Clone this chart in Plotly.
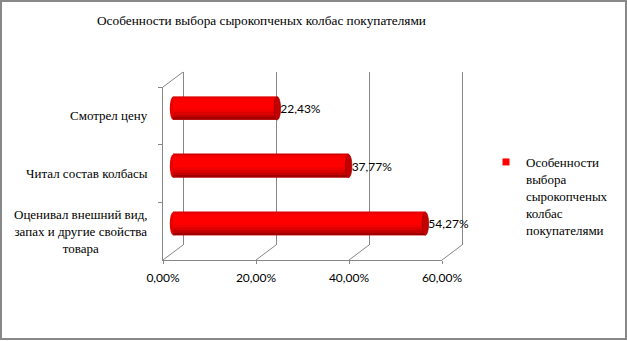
import plotly.graph_objects as go

# ---------------- data ----------------
categories = [
    "Смотрел цену",
    "Читал состав колбасы",
    "Оценивал внешний вид, запах и другие свойства товара",
]
category_labels = [
    "Смотрел цену",
    "Читал состав колбасы",
    "Оценивал внешний вид,<br>запах и другие свойства<br>товара",
]
values = [22.43, 37.77, 54.27]
x_ticks = [0, 20, 40, 60]
x_tick_text = [f"{t:.2f}%".replace(".", ",") for t in x_ticks]
title_text = "Особенности выбора сырокопченых колбас покупателями"
legend_label = "Особенности<br>выбора<br>сырокопченых<br>колбас<br>покупателями"

# ---------------- geometry (pixels) ----------------
W, H = 627, 341


def px(x):
    return x / W


def py(y):
    return 1 - y / H


FX0, FX1 = 163, 442      # front: 0% and 60%
FY0, FY1 = 87, 260       # front: top and bottom
DX, DY = 20, 15          # depth offset of back wall
XMAX = 60
scale = (FX1 - FX0) / XMAX
PAD = 2                  # extra range for bar / wall subplots

GRID = "#878787"
SERIF = "Liberation Serif"
SANS = "Lato"
BAR_W = 0.4

fig = go.Figure()

# invisible trace so the back-wall subplot is created
fig.add_trace(go.Scatter(
    x=values, y=[0.5] * len(values), mode="markers", marker=dict(opacity=0),
    showlegend=False, xaxis="x", yaxis="y", hoverinfo="skip",
))

# main bar (labels)
fig.add_trace(go.Bar(
    x=values, y=categories, orientation="h", width=BAR_W, offset=-BAR_W / 2,
    marker=dict(color="#FF0000", line=dict(width=0)),
    name=legend_label, showlegend=False,
    texttemplate="%{x:.2f}%", textposition="outside", cliponaxis=False,
    textfont=dict(family=SANS, size=12, color="#000000"),
    xaxis="x2", yaxis="y2", hoverinfo="skip",
))

# cylinder shading strips
bands = [
    (0.00, 0.05, "#D00000"),
    (0.05, 0.12, "#F40000"),
    (0.55, 0.66, "#F00000"),
    (0.66, 0.77, "#DC0000"),
    (0.77, 0.88, "#C40000"),
    (0.88, 1.00, "#9E0000"),
]
for a, b, col in bands:
    fig.add_trace(go.Bar(
        x=values, y=categories, orientation="h",
        width=BAR_W * (b - a), offset=-BAR_W / 2 + BAR_W * a,
        marker=dict(color=col, line=dict(width=0)),
        showlegend=False, xaxis="x2", yaxis="y2", hoverinfo="skip",
    ))

# legend entry (small square like the original)
fig.add_trace(go.Scatter(
    x=[None], y=[None], mode="markers", name=legend_label,
    marker=dict(symbol="square", size=7, color="#FF0000"),
    xaxis="x2", yaxis="y2", showlegend=True, hoverinfo="skip",
))

# invisible trace to register categories on the front axis
fig.add_trace(go.Scatter(
    x=values, y=categories, mode="markers", marker=dict(opacity=0),
    showlegend=False, xaxis="x3", yaxis="y3", hoverinfo="skip",
))

shapes = []
# end caps and rounded left ends
rx = 3.2 / scale
for i, v in enumerate(values):
    shapes.append(dict(type="circle", xref="x2", yref="y2", layer="below",
                       x0=-rx, x1=rx, y0=i - BAR_W / 2, y1=i + BAR_W / 2,
                       fillcolor="#E60000", line=dict(width=0)))
    shapes.append(dict(type="circle", xref="x2", yref="y2", layer="above",
                       x0=v - rx, x1=v + rx, y0=i - BAR_W / 2, y1=i + BAR_W / 2,
                       fillcolor="#C20000", line=dict(color="#A00000", width=0.8)))

# floor diagonals and top-left diagonal
for t in x_ticks:
    x0 = FX0 + t * scale
    shapes.append(dict(type="line", xref="paper", yref="paper",
                       x0=px(x0), y0=py(FY1), x1=px(x0 + DX), y1=py(FY1 - DY),
                       line=dict(color=GRID, width=1)))
shapes.append(dict(type="line", xref="paper", yref="paper",
                   x0=px(FX0), y0=py(FY0), x1=px(FX0 + DX), y1=py(FY0 - DY),
                   line=dict(color=GRID, width=1)))
# outer chart border
shapes.append(dict(type="rect", xref="paper", yref="paper",
                   x0=px(1), y0=py(339), x1=px(626), y1=py(1),
                   line=dict(color="#888888", width=2)))

annotations = []
for cat, lab in zip(categories, category_labels):
    annotations.append(dict(
        x=px(150), xref="paper", xanchor="right", y=cat, yref="y3",
        yanchor="middle", text=lab, align="center", showarrow=False,
        font=dict(family=SERIF, size=13, color="#000000"),
    ))

fig.update_layout(
    template="none",
    width=W, height=H, autosize=False,
    margin=dict(l=0, r=0, t=0, b=0, pad=0),
    paper_bgcolor="white", plot_bgcolor="rgba(0,0,0,0)",
    separators=", ",
    barmode="overlay",
    title=dict(text=title_text, x=px(261.5), xanchor="center",
               y=py(20), yanchor="middle", xref="paper", yref="paper",
               font=dict(family=SERIF, size=13.3, color="#000000")),
    # back wall (gridlines)
    xaxis=dict(domain=[px(FX0 + DX - PAD * scale), px(FX1 + DX + PAD * scale)],
               range=[-PAD, XMAX + PAD],
               tickmode="array", tickvals=x_ticks, showgrid=True,
               gridcolor=GRID, gridwidth=1,
               showticklabels=False, ticks="", zeroline=False, showline=False,
               anchor="y", fixedrange=True),
    yaxis=dict(domain=[py(FY1 - DY), py(FY0 - DY)], range=[0, 1],
               showgrid=False, zeroline=False, showline=False,
               showticklabels=False, ticks="", anchor="x", fixedrange=True),
    # bars (mid depth)
    xaxis2=dict(domain=[px(FX0 + DX / 2 - PAD * scale), px(FX1 + DX / 2 + PAD * scale)],
                range=[-PAD, XMAX + PAD], visible=False, anchor="y2", fixedrange=True),
    yaxis2=dict(domain=[py(FY1 - DY / 2), py(FY0 - DY / 2)], range=[2.5, -0.5],
                type="category", categoryorder="array", categoryarray=categories,
                visible=False, anchor="x2", fixedrange=True),
    # front axes
    xaxis3=dict(domain=[px(FX0), px(FX1)], range=[0, XMAX], tickmode="array",
                tickvals=x_ticks, ticktext=x_tick_text,
                showgrid=False, zeroline=False,
                showline=True, linecolor=GRID, linewidth=1,
                ticks="outside", ticklen=3, tickcolor=GRID,
                ticklabelstandoff=4,
                tickfont=dict(family=SANS, size=12, color="#000000"),
                anchor="y3", fixedrange=True),
    yaxis3=dict(domain=[py(FY1), py(FY0)], range=[2.5, -0.5], type="category",
                categoryorder="array", categoryarray=categories,
                showgrid=False, zeroline=False, showline=True, linecolor=GRID,
                linewidth=1, ticks="outside", ticklen=4, tickcolor=GRID,
                tickson="boundaries", showticklabels=False,
                anchor="x3", fixedrange=True),
    legend=dict(x=px(486), xanchor="left", y=py(147), yanchor="top",
                valign="top", bgcolor="rgba(0,0,0,0)",
                font=dict(family=SERIF, size=13, color="#000000")),
    shapes=shapes,
    annotations=annotations,
)

fig.write_html("out.html", config={"displayModeBar": False},
               post_script="document.body.style.margin='0';")
